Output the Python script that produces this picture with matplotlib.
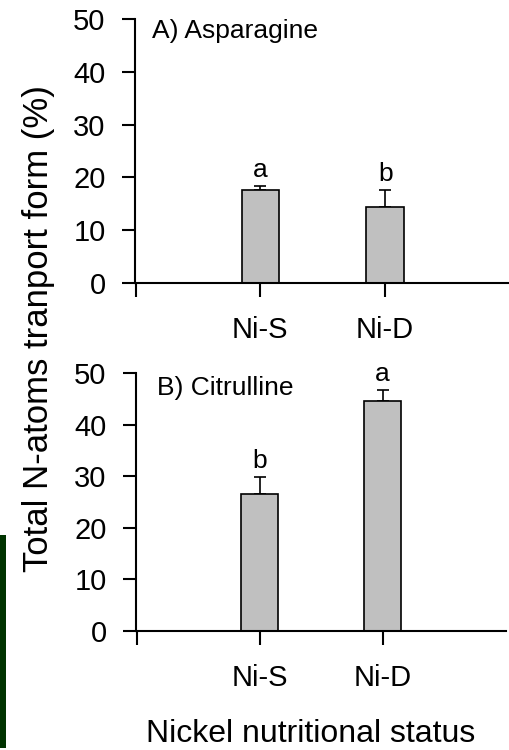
import matplotlib
matplotlib.use("Agg")
import matplotlib.pyplot as plt
from matplotlib.patches import Rectangle

plt.rcParams['font.family'] = ['Liberation Sans', 'DejaVu Sans']

categories = ["Ni-S", "Ni-D"]
asn_values = [17.6, 14.4]
asn_errors = [0.7, 3.3]
asn_letters = ["a", "b"]
cit_values = [26.6, 44.6]
cit_errors = [3.3, 2.1]
cit_letters = ["b", "a"]
yticks = [0, 10, 20, 30, 40, 50]

W, H = 510, 750
fig = plt.figure(figsize=(W / 100, H / 100), dpi=100)

def px_axes(left, right, top, bottom):
    return fig.add_axes([left / W, 1 - bottom / H, (right - left) / W, (bottom - top) / H])

def draw_panel(ax, values, errors, letters, title, tx, ty):
    x = list(range(len(categories)))
    ax.bar(x, values, width=0.3, color="#c0c0c0", edgecolor="black", linewidth=1.2, zorder=2)
    ax.errorbar(x, values, yerr=[[0] * len(errors), errors], fmt="none", ecolor="black",
                elinewidth=1.2, capsize=4.3, capthick=1.2, zorder=1)
    for xi, v, e, lab in zip(x, values, errors, letters):
        ax.annotate(lab, (xi, v + e), xytext=(0, 6.5), textcoords="offset points",
                    ha="center", va="baseline", fontsize=19)
    ax.set_xlim(-1, 2)
    ax.set_ylim(0, 50)
    ax.set_yticks(yticks)
    ax.set_xticks([-1] + x)
    ax.set_xticklabels([""] + categories, fontsize=21)
    ax.tick_params(axis="y", labelsize=21, length=9.5, width=1.5, pad=12)
    ax.tick_params(axis="x", length=10, width=1.5, pad=14)
    for s in ("top", "right"):
        ax.spines[s].set_visible(False)
    for s in ("left", "bottom"):
        ax.spines[s].set_linewidth(1.5)
    ax.spines["bottom"].set_zorder(3)
    ax.text(tx, ty, title, transform=ax.transAxes, fontsize=19, ha="left", va="baseline")

axA = px_axes(135.5, 510, 19, 283)
draw_panel(axA, asn_values, asn_errors, asn_letters, "A) Asparagine", 0.044, 0.929)
axB = px_axes(136.5, 505.5, 373.3, 631)
draw_panel(axB, cit_values, cit_errors, cit_letters, "B) Citrulline", 0.055, 0.916)

fig.text(55 / W, 1 - 329 / H, "Total N-atoms tranport form (%)", rotation=90,
         ha="right", va="center", fontsize=25)
fig.text(311 / W, 1 - 742 / H, "Nickel nutritional status", ha="center", va="baseline", fontsize=23)

fig.patches.append(Rectangle((0, 2 / H), 6 / W, 213 / H, transform=fig.transFigure,
                             facecolor="#003300", edgecolor="none"))

fig.savefig("out.png", dpi=100)
